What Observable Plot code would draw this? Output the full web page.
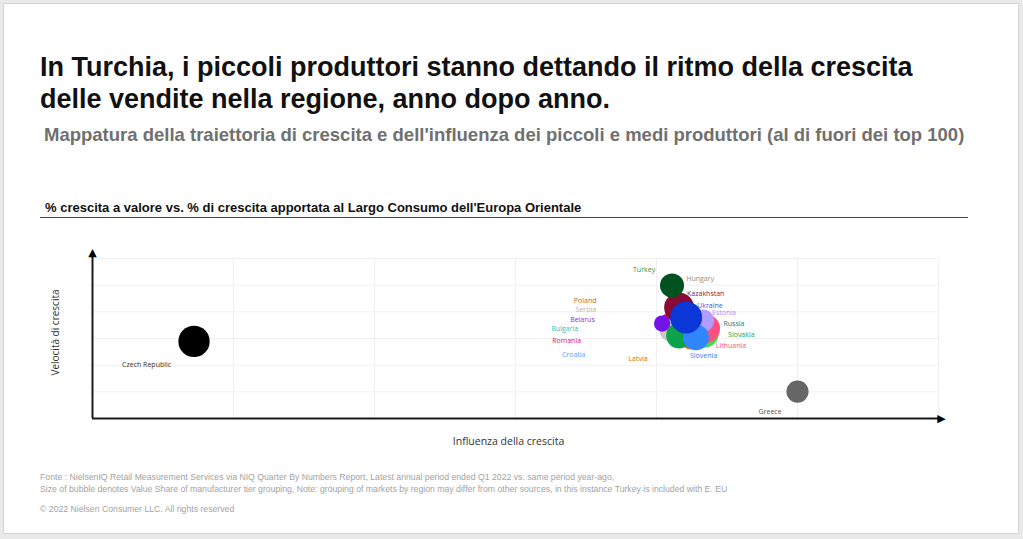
<!DOCTYPE html>
<html>
<head>
<meta charset="utf-8">
<script src="https://cdn.jsdelivr.net/npm/d3@7"></script>
<script src="https://cdn.jsdelivr.net/npm/@observablehq/plot@0.6"></script>
<style>
  html, body { margin: 0; padding: 0; }
  body { width: 1023px; height: 539px; background: #e9e9e9; position: relative; overflow: hidden; font-family: "Liberation Sans", Arial, sans-serif; }
  #slide { position: absolute; left: 3px; top: 3px; width: 1014px; height: 529px; background: #fff; border: 1px solid #d4d4d4; }
  .abs { position: absolute; white-space: nowrap; }
  #title { left: 40px; top: 51px; font-size: 27px; line-height: 32px; font-weight: bold; color: #111; }
  #subtitle { left: 44px; top: 124px; font-size: 18.5px; font-weight: bold; color: #707070; }
  #ctitle { left: 45px; top: 200px; font-size: 13px; font-weight: bold; color: #111; }
  #crule { left: 40px; top: 217px; width: 928px; height: 0; border-top: 1.5px solid #444; }
  .foot { left: 40px; font-size: 8.7px; color: #a3a3a3; }
  #chart { position: absolute; left: 0; top: 240px; }
</style>
</head>
<body>
<div id="slide"></div>
<div class="abs" id="title">In Turchia, i piccoli produttori stanno dettando il ritmo della crescita<br>delle vendite nella regione, anno dopo anno.</div>
<div class="abs" id="subtitle">Mappatura della traiettoria di crescita e dell'influenza dei piccoli e medi produttori (al di fuori dei top 100)</div>
<div class="abs" id="ctitle">% crescita a valore vs. % di crescita apportata al Largo Consumo dell'Europa Orientale</div>
<div class="abs" id="crule"></div>
<div id="chart"></div>
<div class="abs foot" style="top:472px">Fonte : NielsenIQ Retail Measurement Services via NIQ Quarter By Numbers Report, Latest annual period ended Q1 2022 vs. same period year-ago,</div>
<div class="abs foot" style="top:484px">Size of bubble denotes Value Share of manufacturer tier grouping, Note: grouping of markets by region may differ from other sources, in this instance Turkey is included with E. EU</div>
<div class="abs foot" style="top:504px">© 2022 Nielsen Consumer LLC. All rights reserved</div>
<script>
// ---- data (drawing order: first = bottom) ----
const countries = ["Poland","Romania","Bulgaria","Croatia","Hungary","Latvia","Serbia","Belarus","Russia","Lithuania","Estonia","Kazakhstan","Slovakia","Slovenia","Ukraine","Turkey","Czech Republic","Greece"];
const influence = [4.13, 4.09, 4.17, 4.23, 4.19, 4.24, 4.10, 4.04, 4.34, 4.35, 4.33, 4.16, 4.16, 4.28, 4.21, 4.11, 0.72, 5.00];
const velocity  = [3.49, 3.60, 3.30, 3.11, 3.86, 2.89, 3.30, 3.56, 3.19, 3.37, 3.67, 4.16, 3.11, 3.04, 3.79, 4.99, 2.89, 1.01];
const share     = [4.0, 4.0, 4.0, 4.0, 4.5, 3.0, 5.5, 3.0, 9.0, 9.0, 5.5, 10.0, 7.5, 7.5, 11.5, 6.5, 11.0, 5.5];
const xTicks = [1, 2, 3, 4, 5, 6];
const yTicks = [1, 2, 3, 4, 5, 6];
const xLabel = "Influenza della crescita";
const yLabel = "Velocità di crescita";

// ---- styles ----
const bubbleColor = {
  "Poland":"#c06a2a","Romania":"#e0105a","Bulgaria":"#1cc4c4","Croatia":"#4d9fff","Hungary":"#8a8a8a",
  "Latvia":"#f07010","Serbia":"#c9c9c9","Belarus":"#7412e8","Russia":"#3fdc3f","Lithuania":"#ff4f80",
  "Estonia":"#b19cff","Kazakhstan":"#8a0a35","Slovakia":"#0da34a","Slovenia":"#2f86ff","Ukraine":"#0b36d8",
  "Turkey":"#00521f","Czech Republic":"#000000","Greece":"#666666"
};
const labelColor = {
  "Poland":"#c0682a","Romania":"#e0105a","Bulgaria":"#1cc4c4","Croatia":"#5aa0ff","Hungary":"#8c8c8c",
  "Latvia":"#e06a10","Serbia":"#b5b5b5","Belarus":"#8a2be2","Russia":"#167a70","Lithuania":"#ff4f7f",
  "Estonia":"#a98bff","Kazakhstan":"#8b1a3d","Slovakia":"#16a34a","Slovenia":"#3a7bff","Ukraine":"#3355ee",
  "Turkey":"#3a8f2a","Czech Republic":"#333333","Greece":"#555555"
};
// label offsets in pixels from the bubble centre
const labelOffset = {
  "Poland":[-101,-25],"Romania":[-117,18],"Bulgaria":[-129,-2],"Croatia":[-127,19],"Hungary":[3,-37],
  "Latvia":[-62,17],"Serbia":[-95,-21],"Belarus":[-92,-4],"Russia":[19,-10],"Lithuania":[10,17],
  "Estonia":[9,-8],"Kazakhstan":[8,-14],"Slovakia":[49,-1],"Slovenia":[-6,18],"Ukraine":[11,-12],
  "Turkey":[-39,-16],"Czech Republic":[-72,23],"Greece":[-39,20]
};

const data = countries.map((c, i) => ({country: c, x: influence[i], y: velocity[i], s: share[i]}));

const W = 1023, H = 220, mL = 92, mR = 85, mT = 18, mB = 42;
const xMax = 6, yMax = 6;
const pxX = (W - mL - mR) / xMax;
const pxY = (H - mT - mB) / yMax;

const plot = Plot.plot({
  width: W, height: H,
  marginLeft: mL, marginRight: mR, marginTop: mT, marginBottom: mB,
  x: {domain: [0, xMax], axis: null},
  y: {domain: [0, yMax], axis: null},
  r: {domain: [0, 11.5], range: [0, 16]},
  color: {type: "identity"},
  style: {fontFamily: "'Open Sans', sans-serif", background: "transparent", overflow: "visible"},
  marks: [
    Plot.ruleX(xTicks, {x: d => d, y1: 0, y2: yMax, stroke: "#f0f0f0", strokeWidth: 1}),
    Plot.ruleY(yTicks, {y: d => d, x1: 0, x2: xMax, stroke: "#f0f0f0", strokeWidth: 1}),
    Plot.ruleY([0], {x1: 0, x2: xMax + 2 / pxX, stroke: "#1a1a1a", strokeWidth: 2}),
    Plot.ruleX([0], {y1: 0, y2: yMax + 4 / pxY, stroke: "#1a1a1a", strokeWidth: 2}),
    Plot.text(["▶"], {x: xMax + 3 / pxX, y: 0, fontSize: 11, fill: "#000", fontFamily: "DejaVu Sans"}),
    Plot.text(["▲"], {x: 0, y: yMax + 6 / pxY, fontSize: 11, fill: "#000", fontFamily: "DejaVu Sans"}),
    Plot.dot(data, {x: "x", y: "y", r: "s", fill: d => bubbleColor[d.country], stroke: "none", sort: null}),
    Plot.text(data, {
      x: d => d.x + labelOffset[d.country][0] / pxX,
      y: d => d.y - labelOffset[d.country][1] / pxY,
      text: "country", textAnchor: "start", fontSize: 7,
      fill: d => labelColor[d.country]
    }),
    Plot.text([xLabel], {frameAnchor: "bottom", dy: 26, dx: -7, fontSize: 10.5, fill: "#333"}),
    Plot.text([yLabel], {frameAnchor: "left", textAnchor: "middle", dx: -37, dy: -6, rotate: -90, fontSize: 10, fill: "#333"})
  ]
});
document.getElementById("chart").appendChild(plot);
</script>
</body>
</html>
